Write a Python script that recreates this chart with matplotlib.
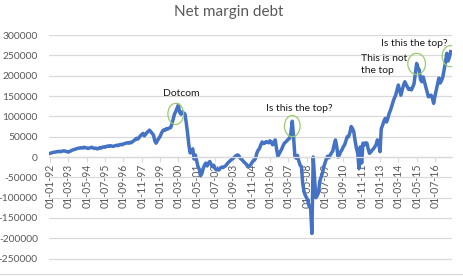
import numpy as np
import pandas as pd
import matplotlib
matplotlib.use("Agg")
import matplotlib.pyplot as plt
from matplotlib.patches import Ellipse

plt.rcParams["font.family"] = ["Lato", "DejaVu Sans"]
plt.rcParams["axes.unicode_minus"] = False

# monthly net margin debt, thousands, Jan 1992 .. Jul 2017
debt_k = [
    9, 10, 11, 12, 12, 13, 13, 14, 13, 14, 15, 15,            # 1992
    14, 13, 12, 14, 15, 17, 18, 19, 20, 21, 22, 22,           # 1993
    23, 22, 24, 23, 22, 21, 22, 23, 24, 22, 21, 22,           # 1994
    20, 21, 23, 22, 24, 25, 24, 26, 27, 26, 28, 27,           # 1995
    26, 27, 28, 29, 28, 30, 31, 30, 32, 33, 34, 35,           # 1996
    34, 36, 35, 38, 40, 43, 46, 44, 48, 52, 55, 58,           # 1997
    52, 56, 60, 63, 66, 62, 58, 54, 40, 34, 40, 46,           # 1998
    50, 58, 64, 67, 66, 70, 69, 71, 72, 80, 92, 105,          # 1999
    112, 120, 128, 110, 105, 111, 108, 106, 85, 60, 30, 10,   # 2000
    15, 20, -5, 5, -10, -24, -30, -46, -40, -28, -20, -15,    # 2001
    -22, -15, -11, -18, -24, -20, -28, -32, -30, -32, -27, -25,  # 2002
    -26, -24, -22, -18, -14, -11, -8, -5, -3, 0, 3, 5,        # 2003
    4, -2, -5, -8, -12, -15, -18, -24, -22, -20, -15, -10,    # 2004
    -8, -3, 10, 17, 21, 30, 37, 33, 34, 38, 36, 35,           # 2005
    40, 35, 30, 38, 42, 20, 2, 8, 14, 20, 28, 34,             # 2006
    37, 40, 44, 46, 60, 88, 50, 2, -3, 4, -10, -20,           # 2007
    -24, -65, -85, -95, -100, -110, -122, -125, -188, 0, -48, -100,  # 2008
    -95, -88, -60, -50, -40, -25, -15, -5, 2, -2, 5, 10,      # 2009
    15, 30, 42, 25, 0, 5, 13, 18, 25, 30, 40, 50,             # 2010
    50, 60, 75, 70, 62, 40, 22, 9, -28, 25, -15, 34,          # 2011
    30, 35, 34, 20, 9, 12, 17, 20, 25, 30, 42, 35,            # 2012
    13, 70, 78, 88, 95, 86, 95, 107, 115, 125, 136, 145,      # 2013
    152, 165, 177, 165, 152, 165, 177, 185, 178, 172, 166, 168,  # 2014
    165, 172, 180, 205, 230, 220, 214, 190, 185, 197, 185, 173,  # 2015
    160, 148, 150, 152, 145, 132, 150, 165, 180, 194, 182, 188,  # 2016
    197, 215, 232, 255, 236, 245, 259,                        # 2017
]
debt = np.array(debt_k) * 1000
months = pd.date_range("1992-01-01", periods=len(debt), freq="MS")
idx = np.arange(len(debt))

tick_idx = idx[::14]
tick_labels = [d.strftime("%d-%m-%y") for d in months[::14]]

grey = "#595959"
grid = "#D9D9D9"
green = "#9BCB6B"

fig = plt.figure(figsize=(4.64, 2.77), dpi=100)
ax = fig.add_axes([0.1056, -0.0072, 0.8685, 0.8808])

ax.plot(idx, debt, color="#4472C4", lw=2.5, solid_joinstyle="round")

for s in ["top", "right", "left"]:
    ax.spines[s].set_visible(False)
ax.spines["bottom"].set_position(("data", 0))
ax.spines["bottom"].set_color(grid)
ax.spines["bottom"].set_linewidth(0.9)

ax.set_ylim(-300000, 300000)
ax.set_xlim(-0.8, 307)
ax.set_yticks(np.arange(-250000, 300001, 50000))
ax.yaxis.set_major_formatter(matplotlib.ticker.FuncFormatter(lambda v, p: f"{int(v)}"))
ax.tick_params(axis="y", length=0, labelsize=7.4, labelcolor=grey, pad=8)
ax.axhline(-300000, color=grid, lw=0.9)
ax.grid(axis="y", color=grid, lw=0.9)
ax.set_axisbelow(True)

ax.set_xticks(tick_idx)
ax.set_xticklabels(tick_labels, rotation=90)
ax.tick_params(axis="x", length=3.5, color=grid, labelsize=7.6, labelcolor=grey, pad=1.5)

# annotations around the peaks
def mark(i, dv, w=12, h=52000):
    ax.add_patch(Ellipse((i, debt[i] + dv), w, h, fill=False, ec=green, lw=0.9, zorder=3))

p_dot = 98
p_07 = 185
p_15 = 280
p_17 = 306
mark(p_dot - 2, -6000)
mark(p_07, -12000)
mark(p_15, -1000, w=13.5)
mark(p_17, -11000, w=13)

tkw = dict(fontsize=7.5, color="#1a1a1a")
ax.text(p_dot + 2, debt[p_dot] + 29000, "Dotcom", ha="center", va="center", **tkw)
ax.text(p_07 + 5.5, debt[p_07] + 32500, "Is this the top?", ha="center", va="center", **tkw)
ax.text(p_15 - 42.5, debt[p_15] - 3000, "This is not\nthe top", ha="left", va="center",
        linespacing=1.45, **tkw)
ax.text(p_17 - 27.5, debt[p_17] + 19000, "Is this the top?", ha="center", va="center", **tkw)

fig.text(229 / 464, 1 - 12 / 277, "Net margin debt", ha="center", va="center",
         fontsize=11, color=grey)
fig.add_artist(plt.Line2D([0, 1], [1 - 274 / 277] * 2, color=grid, lw=0.9))

fig.savefig("out.png", dpi=100)
